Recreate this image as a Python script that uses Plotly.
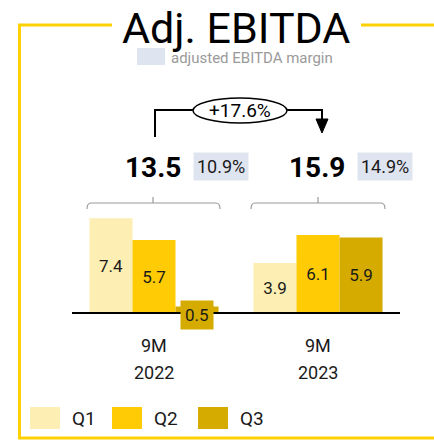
import plotly.graph_objs as go

# data
periods = ["9M 2022", "9M 2023"]
period_top = ["9M", "9M"]
period_bottom = ["2022", "2023"]
quarters = ["Q1", "Q2", "Q3"]
q1 = [7.4, 3.9]
q2 = [5.7, 6.1]
q3 = [0.5, 5.9]
totals = [13.5, 15.9]
margins = ["10.9%", "14.9%"]
growth = "+17.6%"

colors = ["#FDEEB3", "#FFCB05", "#D5AB00"]
frame = "#FFD100"
margin_bg = "#DFE5F0"
font = "Roboto, sans-serif"

W, H = 434, 440


def px(x):
    return x / W


def py(y):
    return 1 - y / H


def label(x, y, text, size, color="#1a1a1a", xref="paper", xanchor="center", **kw):
    return dict(x=x, y=y, xref=xref, yref="paper", xanchor=xanchor, yanchor="middle",
                text=text, showarrow=False, font=dict(family=font, size=size, color=color), **kw)


fig = go.Figure()

for name, vals, col in zip(quarters, [q1, q2, q3], colors):
    fig.add_trace(go.Bar(
        x=periods,
        y=vals,
        name=name,
        marker=dict(color=col, line=dict(width=0)),
        text=[f"{v}" if v >= 1 else "" for v in vals],
        textposition="inside",
        insidetextanchor="middle",
        textangle=0,
        textfont=dict(family=font, size=17, color="#1a1a1a"),
        showlegend=False
    ))

shapes = []
annotations = []

# small values get a label box sitting on the baseline
for i, (name, vals, col) in enumerate(zip(quarters, [q1, q2, q3], colors)):
    for j, v in enumerate(vals):
        if v < 1:
            annotations.append(dict(
                x=periods[j], y=0, xref="x", yref="y", xanchor="center", yanchor="middle",
                xshift=(i - 1) * 43, yshift=-2,
                text=f"{v}", showarrow=False,
                bgcolor=col, borderpad=4,
                font=dict(family=font, size=17, color="#1a1a1a")
            ))

# baseline
shapes.append(dict(type="line", xref="x", yref="y", x0=-0.5, x1=1.5, y0=0, y1=0,
                   line=dict(color="black", width=2)))

# frame
for x0, y0, x1, y1 in [(18, 25, 112, 25), (361, 25, 434, 25), (19.5, 25, 19.5, 438), (18, 438, 434, 438)]:
    shapes.append(dict(type="line", xref="paper", yref="paper",
                       x0=px(x0), y0=py(y0), x1=px(x1), y1=py(y1),
                       line=dict(color=frame, width=3)))

# title + margin key
annotations.append(label(px(236), py(27.5), "Adj. EBITDA", 43, color="black"))
shapes.append(dict(type="rect", xref="paper", yref="paper", x0=px(137), x1=px(165), y0=py(48), y1=py(65),
                   fillcolor=margin_bg, line=dict(width=0)))
annotations.append(label(px(169), py(58), "adjusted EBITDA margin", 15, color="#9a9a9a", xanchor="left"))


# growth arrow
def path(pts):
    return "M " + " L ".join(f"{px(x)},{py(y)}" for x, y in pts)


shapes.append(dict(type="path", xref="paper", yref="paper", path=path([(155, 137), (155, 110), (193, 110)]),
                   line=dict(color="black", width=2)))
shapes.append(dict(type="path", xref="paper", yref="paper", path=path([(287, 110), (322, 110), (322, 121)]),
                   line=dict(color="black", width=2)))
shapes.append(dict(type="path", xref="paper", yref="paper", path=path([(316, 119), (328, 119), (322, 133)]) + " Z",
                   fillcolor="black", line=dict(color="black", width=1)))
shapes.append(dict(type="circle", xref="paper", yref="paper", x0=px(193), x1=px(287), y0=py(98), y1=py(123),
                   fillcolor="white", line=dict(color="black", width=1.5)))
annotations.append(label(px(240), py(110.5), growth, 19, color="black"))

# totals, margins, braces, period labels
for j, p in enumerate(periods):
    annotations.append(label(p, py(167), f"<b>{totals[j]}</b>", 28, color="black", xref="x", xshift=-1))
    annotations.append(label(p, py(166.5), margins[j], 18, xref="x", xshift=67,
                             bgcolor=margin_bg, borderpad=3))
    annotations.append(label(p, py(345), period_top[j], 18, xref="x"))
    annotations.append(label(p, py(372), period_bottom[j], 18, xref="x"))

for xl, xc, xr in [(87, 153, 220), (251, 318, 385)]:
    d = (f"M {px(xl)},{py(209)} Q {px(xl)},{py(203)} {px(xl + 4)},{py(203)} "
         f"L {px(xr - 4)},{py(203)} Q {px(xr)},{py(203)} {px(xr)},{py(209)} "
         f"M {px(xc)},{py(203)} L {px(xc)},{py(197)}")
    shapes.append(dict(type="path", xref="paper", yref="paper", path=d,
                       line=dict(color="#9a9a9a", width=1.2)))

# legend drawn by hand to get the big swatches
for name, col, x0, xt in zip(quarters, colors, [30, 112, 198], [70, 152, 238]):
    shapes.append(dict(type="rect", xref="paper", yref="paper", x0=px(x0), x1=px(x0 + 30),
                       y0=py(407), y1=py(429), fillcolor=col, line=dict(width=0)))
    annotations.append(label(px(xt), py(418), name, 19, xanchor="left"))

fig.update_layout(
    width=W, height=H,
    margin=dict(l=0, r=0, t=0, b=0),
    paper_bgcolor="white", plot_bgcolor="white",
    barmode="group", bargap=0.213, bargroupgap=0,
    uniformtext=dict(minsize=17, mode="show"),
    xaxis=dict(domain=[px(72), px(400)], range=[-0.5, 1.5], visible=False),
    yaxis=dict(domain=[0, 1], range=[-(H - 313) / 12.8, 313 / 12.8], visible=False),
    shapes=shapes,
    annotations=annotations
)

fig.write_html("out.html", config={"displayModeBar": False},
               post_script="document.body.style.margin='0';")
